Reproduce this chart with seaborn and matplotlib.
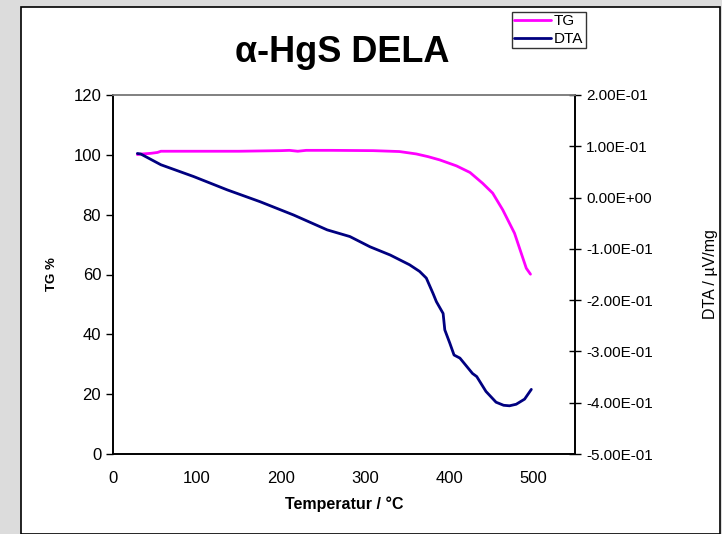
import matplotlib
matplotlib.use("Agg")
import matplotlib.pyplot as plt
import seaborn as sns
import pandas as pd
from matplotlib.patches import Rectangle

# --- Datos ---
temp_tg = [29, 35, 45, 53, 57, 100, 150, 200, 210, 220, 230, 260, 310, 341, 361, 375,
           389, 409, 425, 440, 452, 464, 478, 486, 492, 497]
tg = [100.1, 100.3, 100.5, 100.8, 101.2, 101.2, 101.2, 101.4, 101.5, 101.2, 101.5, 101.5,
      101.4, 101.1, 100.3, 99.4, 98.3, 96.3, 94.1, 90.5, 87.2, 81.6, 73.8, 67.1, 62.1, 60.1]

temp_dta = [29, 33, 57, 96, 136, 175, 215, 255, 282, 294, 306, 330, 353, 365, 373, 381,
            385, 393, 395, 401, 406, 413, 428, 433, 444, 456, 465, 472, 480, 490, 498]
dta = [0.086, 0.085, 0.064, 0.041, 0.015, -0.008, -0.034, -0.063, -0.076, -0.086, -0.096,
       -0.112, -0.131, -0.144, -0.157, -0.187, -0.203, -0.226, -0.258, -0.284, -0.307,
       -0.313, -0.343, -0.349, -0.378, -0.399, -0.405, -0.406, -0.403, -0.393, -0.374]

x_ticks = [0, 100, 200, 300, 400, 500]
tg_ticks = [0, 20, 40, 60, 80, 100, 120]
dta_ticks = [-0.5, -0.4, -0.3, -0.2, -0.1, 0.0, 0.1, 0.2]

df_tg = pd.DataFrame({"temp": temp_tg, "tg": tg})
df_dta = pd.DataFrame({"temp": temp_dta, "dta": dta})

sns.set_theme(style="white")
plt.rcParams["font.family"] = ["Liberation Sans", "DejaVu Sans"]
plt.rcParams["text.color"] = "black"
plt.rcParams["axes.labelcolor"] = "black"

W, H = 722, 534
fig = plt.figure(figsize=(W / 100, H / 100), dpi=100)
fig.patch.set_facecolor("#dcdcdc")

# marco blanco del área del gráfico
fig.patches.append(Rectangle((21 / W, 0), 699 / W, 1 - 7 / H, transform=fig.transFigure,
                             facecolor="white", edgecolor="black", linewidth=1.2, zorder=-10))

ax = fig.add_axes([113 / W, 1 - 454 / H, (575 - 113) / W, (454 - 95) / H])
ax.set_facecolor("none")
ax2 = ax.twinx()
ax2.set_facecolor("none")

sns.lineplot(data=df_tg, x="temp", y="tg", ax=ax, color="#ff00ff", linewidth=2,
             sort=False, label="TG", legend=False)
sns.lineplot(data=df_dta, x="temp", y="dta", ax=ax2, color="#000080", linewidth=2,
             sort=False, label="DTA", legend=False)

ax.set_xlim(0, 550)
ax.set_ylim(0, 120)
ax2.set_ylim(-0.5, 0.2)
ax.set_xticks(x_ticks)
ax.set_yticks(tg_ticks)
ax2.set_yticks(dta_ticks)
ax2.set_yticklabels([f"{v:.2E}" for v in dta_ticks])

for a in (ax, ax2):
    for s in a.spines.values():
        s.set_color("black")
        s.set_linewidth(1.2)
    a.spines["top"].set_color("#808080")
ax.tick_params(axis="both", direction="out", length=5, width=1, labelsize=12, colors="black")
ax.tick_params(axis="x", pad=7)
ax2.tick_params(axis="y", direction="inout", length=8, width=1, labelsize=11, colors="black", pad=4)

ax.set_xlabel("Temperatur / °C", fontsize=11.5, fontweight="bold", labelpad=8)
ax.set_ylabel("TG %", fontsize=9.5, fontweight="bold", labelpad=11)
ax2.set_ylabel("DTA / µV/mg", fontsize=11.5, labelpad=36)

fig.text(0.474, 1 - 62 / H, "α-HgS DELA", fontsize=26, fontweight="bold",
         ha="center", va="baseline")

h1, l1 = ax.get_legend_handles_labels()
h2, l2 = ax2.get_legend_handles_labels()
leg = fig.legend(h1 + h2, l1 + l2, loc="upper left", bbox_to_anchor=(512 / W, 1 - 12 / H),
                 fontsize=11, frameon=True, fancybox=False, handlelength=2.4,
                 handletextpad=0.2, borderpad=0.15, labelspacing=0.25, borderaxespad=0)
leg.get_frame().set_edgecolor("black")
leg.get_frame().set_linewidth(1)

fig.savefig("out.png", dpi=100, facecolor=fig.get_facecolor())
